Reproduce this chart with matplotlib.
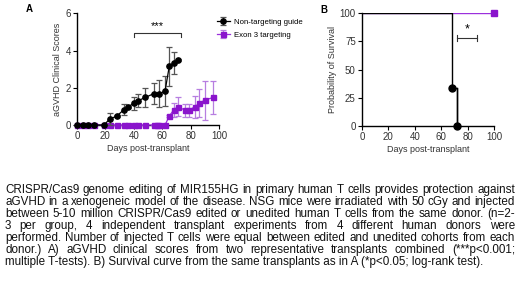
import matplotlib
matplotlib.use("Agg")
import matplotlib.pyplot as plt
import numpy as np

plt.rcParams['font.family'] = ['Liberation Sans', 'DejaVu Sans']

# ---- Panel A data ----
nt_days = [0, 4, 8, 12, 19, 23, 28, 33, 36, 40, 43, 48, 54, 58, 62, 65, 68, 71]
nt_score = [0, 0, 0, 0, 0, 0.32, 0.48, 0.82, 0.98, 1.16, 1.3, 1.48, 1.68, 1.68, 1.82, 3.16, 3.32, 3.48]
nt_err = [0, 0, 0, 0, 0, 0.3, 0.05, 0.3, 0.05, 0.34, 0.34, 0.52, 0.56, 0.72, 0.8, 1.05, 0.58, 0.05]

ex_days = [0, 4, 8, 12, 19, 23, 28, 33, 36, 40, 43, 48, 54, 56, 58, 62, 65, 68, 71, 76, 79, 83, 86, 90, 96]
ex_score = [0, 0, 0, 0, 0, 0, 0, 0, 0, 0, 0, 0, 0, 0, 0, 0, 0.48, 0.8, 0.98, 0.8, 0.8, 0.98, 1.16, 1.34, 1.48]
ex_err = [0, 0, 0, 0, 0, 0, 0, 0, 0, 0, 0, 0, 0, 0, 0, 0, 0.05, 0.38, 0.5, 0.35, 0.35, 0.6, 0.75, 1.05, 0.88]

# ---- Panel B data ----
surv_nt_days = [0, 68, 72]
surv_nt_prob = [100, 33.3, 0]
surv_ex_days = [0, 100]
surv_ex_prob = [100, 100]

labels = ["Non-targeting guide", "Exon 3 targeting"]

caption_lines = [
    "CRISPR/Cas9 genome editing of MIR155HG in primary human T cells provides protection against",
    "aGVHD in a xenogeneic model of the disease. NSG mice were irradiated with 50 cGy and injected",
    "between 5-10 million CRISPR/Cas9 edited or unedited human T cells from the same donor. (n=2-",
    "3 per group, 4 independent transplant experiments from 4 different human donors were",
    "performed. Number of injected T cells were equal between edited and unedited cohorts from each",
    "donor.) A) aGVHD clinical scores from two representative transplants combined (***p<0.001;",
    "multiple T-tests). B) Survival curve from the same transplants as in A (*p<0.05; log-rank test).",
]

BLACK = "#000000"
PURPLE = "#9b2fdc"
PURPLE_M = "#8a14cc"
GREY = "#333333"

W, H = 520, 295
fig = plt.figure(figsize=(W / 100, H / 100), dpi=100)

def style_axes(ax):
    for s in ['top', 'right']:
        ax.spines[s].set_visible(False)
    for s in ['left', 'bottom']:
        ax.spines[s].set_linewidth(1.0)
    ax.tick_params(axis='both', length=3, width=0.8, labelsize=7, pad=1.5,
                   labelcolor=GREY)

# Panel A
axA = fig.add_axes([77 / W, 1 - 125 / H, 142 / W, 111.7 / H])
axA.errorbar(ex_days, ex_score, yerr=ex_err, color=PURPLE, ecolor="#b77ee0",
             elinewidth=0.9, capsize=2, capthick=0.9, lw=0.9, marker='s',
             markersize=3.6, mfc=PURPLE_M, mec=PURPLE_M, clip_on=False, zorder=3,
             label=labels[1])
axA.errorbar(nt_days, nt_score, yerr=nt_err, color=BLACK, ecolor="#555555",
             elinewidth=0.9, capsize=2, capthick=0.9, lw=0.9, marker='o',
             markersize=3.8, mfc=BLACK, mec=BLACK, clip_on=False, zorder=4,
             label=labels[0])
axA.set_xlim(0, 100)
axA.set_ylim(0, 6)
axA.set_xticks([0, 20, 40, 60, 80, 100])
axA.set_yticks([0, 2, 4, 6])
style_axes(axA)
axA.set_xlabel("Days post-transplant", fontsize=6.5, labelpad=2, color=GREY)
axA.set_ylabel("aGVHD Clinical Scores", fontsize=6.5, labelpad=2, color=GREY)
# significance bracket
axA.plot([40.3, 40.3, 73.3, 73.3], [4.72, 4.96, 4.96, 4.72], color=GREY, lw=0.8)
axA.text(56.8, 5.02, "***", ha='center', va='bottom', fontsize=8, color=BLACK)

h, l = axA.get_legend_handles_labels()
fig.legend(h[::-1], l[::-1], loc='upper left', bbox_to_anchor=(214 / W, 1 - 15 / H),
           frameon=False, fontsize=5.6, handlelength=1.6, handletextpad=0.6,
           labelspacing=0.75, borderaxespad=0)

fig.text(29 / W, 1 - 9 / H, "A", fontsize=7, fontweight='bold', ha='center', va='center')
fig.text(324 / W, 1 - 10 / H, "B", fontsize=7, fontweight='bold', ha='center', va='center')

# Panel B
axB = fig.add_axes([362 / W, 1 - 125.7 / H, 132 / W, 112.4 / H])
axB.step(surv_ex_days, surv_ex_prob, where='post', color=PURPLE, lw=1.0, zorder=2)
axB.plot([surv_ex_days[-1]], [surv_ex_prob[-1]], marker='s', markersize=5,
         color=PURPLE_M, clip_on=False, zorder=3, ls='none')
axB.step(surv_nt_days, surv_nt_prob, where='post', color=BLACK, lw=1.0, zorder=3)
axB.plot([surv_nt_days[-1], surv_nt_days[-1]], [surv_nt_prob[-2], surv_nt_prob[-1]],
         color=BLACK, lw=1.0, zorder=3)
axB.plot(surv_nt_days[1:], surv_nt_prob[1:], marker='o', markersize=5, color=BLACK,
         ls='none', clip_on=False, zorder=4)
axB.set_xlim(0, 100)
axB.set_ylim(0, 100)
axB.set_xticks([0, 20, 40, 60, 80, 100])
axB.set_yticks([0, 25, 50, 75, 100])
style_axes(axB)
axB.set_xlabel("Days post-transplant", fontsize=6.5, labelpad=2, color=GREY)
axB.set_ylabel("Probability of Survival", fontsize=6.5, labelpad=2, color=GREY)
axB.plot([72.2, 86.9], [78, 78], color=GREY, lw=0.8)
axB.plot([72.2, 72.2], [75, 81], color=GREY, lw=0.8)
axB.plot([86.9, 86.9], [75, 81], color=GREY, lw=0.8)
axB.text(79.5, 80.5, "*", ha='center', va='bottom', fontsize=9, color=BLACK)

# Caption with justified lines
left_px, right_px = 5, 515
line_y = [190, 202, 214, 226, 238, 250, 261.7]
renderer = fig.canvas.get_renderer()

def natural_width(line, fs):
    t = fig.text(0, 0, line, fontsize=fs)
    w = t.get_window_extent(renderer=renderer).width
    t.remove()
    return w

base_fs = 10
max_nat = max(natural_width(ln, base_fs) for ln in caption_lines)
cap_fs = min(8.6, base_fs * (right_px - left_px - 2) / max_nat)

for i, (line, yy) in enumerate(zip(caption_lines, line_y)):
    words = line.split(" ")
    if i == len(caption_lines) - 1:
        fig.text(left_px / W, 1 - yy / H, line, fontsize=cap_fs, ha='left',
                 va='center', color="#111111")
        continue
    texts = []
    widths = []
    for w in words:
        t = fig.text(0, 1 - yy / H, w, fontsize=cap_fs, ha='left', va='center',
                     color="#111111")
        bb = t.get_window_extent(renderer=renderer)
        texts.append(t)
        widths.append(bb.width)
    gap = (right_px - left_px - sum(widths)) / (len(words) - 1)
    x = left_px
    for t, wd in zip(texts, widths):
        t.set_x(x / W)
        x += wd + gap

fig.savefig("out.png", dpi=100)
